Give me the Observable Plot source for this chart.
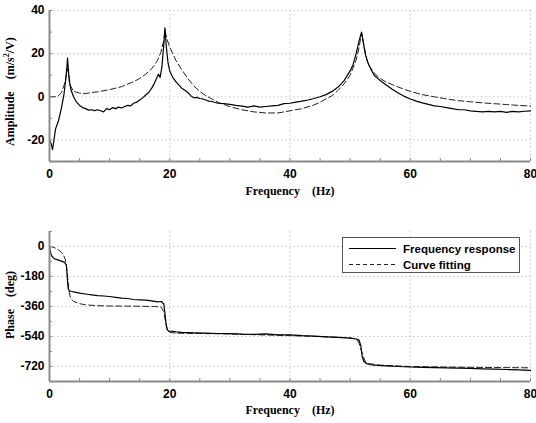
<!DOCTYPE html>
<html><head><meta charset="utf-8">
<script src="https://cdn.jsdelivr.net/npm/d3@7"></script>
<script src="https://cdn.jsdelivr.net/npm/@observablehq/plot@0.6"></script>
<style>
body{margin:0;background:#fff;}
#wrap{position:relative;width:536px;height:423px;overflow:hidden;}
#wrap svg{display:block;}
.lab{position:absolute;font-family:"Liberation Serif","DejaVu Serif",serif;font-weight:bold;font-size:12px;color:#000;white-space:pre;line-height:14px;}
.rot{transform-origin:0 0;transform:rotate(-90deg);}
#legend{position:absolute;left:342px;top:237px;width:178px;height:36px;border:1px solid #555;background:#fff;box-sizing:border-box;}
</style></head>
<body>
<div id="wrap">
<div id="top"></div>
<div id="bot"></div>
</div>
<script>
// ---- Data ----
const ampRespF = [0,0.3,0.5,0.8,1.0,1.5,2.0,2.4,2.7,2.9,3.0,3.1,3.3,3.6,4.0,4.5,5,5.5,6,6.5,7,7.5,8,8.5,9,9.5,10,10.5,11,11.5,12,12.5,13,13.5,14,14.5,15,15.5,16,16.5,17,17.4,17.8,18.1,18.4,18.7,19.0,19.2,19.4,19.7,20,20.5,21,21.5,22,22.5,23,23.5,24,24.5,25,25.5,26,26.5,27,28,29,30,31,32,33,34,35,36,37,38,39,40,41,42,43,44,45,46,47,48,49,50,50.5,51,51.5,51.9,52.2,52.5,53,53.5,54,55,56,57,58,59,60,61,62,63,64,65,66,67,68,69,70,71,72,73,74,75,76,77,78,79,80];
const ampRespV = [-20,-22,-24.5,-19,-15,-11,-5,1,8,14,18,14,7,3,0,-2.5,-4,-5,-5.5,-6.2,-6,-6.4,-6,-6.5,-7,-5.5,-6,-5,-5.5,-4.8,-5.2,-4.5,-4,-4.2,-3,-2.5,-1.5,-0.5,0.8,2,4,6,8.5,10.5,9,14,24,32,24,16,12,9,7,5.5,4,3,2,0.5,-0.5,-0.3,-0.8,-1,-1.5,-2,-2.2,-3,-3.2,-3.5,-4,-4.3,-4.8,-4.2,-4.8,-4.5,-4.2,-4,-3.2,-3,-2.5,-2,-1.5,-0.8,0,1,2.5,4.5,7.5,12,15,20,26,30,25,20,15.5,12.5,10,7.5,5.5,3.5,1.8,0.2,-1,-2,-2.8,-3.5,-4.2,-4.5,-5,-5.5,-6,-6,-6.5,-6.8,-7,-6.8,-7,-6.8,-7.2,-6.8,-7,-6.7,-6.5];
const ampFitF = [0,1,1.5,2,2.5,2.8,3.0,3.2,3.5,4,5,6,7,8,10,12,14,15,16,17,18,18.5,19,19.2,19.5,20,20.5,21,22,23,24,25,26,27,28,30,32,34,36,38,40,42,44,45,46,47,48,49,50,51,51.5,51.9,52.3,52.7,53,54,55,56,58,60,62,64,66,68,70,72,74,76,78,80];
const ampFitV = [0,0,0.5,2,6,10,13,10,5,2.5,1.7,1.5,2,2.3,3.3,4.7,7,8.5,10.5,13,17,20.5,26,31,27,23,20,17,12.5,8.5,5,2.5,0.5,-1,-2.5,-4.6,-6,-7,-7.5,-7.5,-6.5,-5.5,-3.8,-2.5,-1,0.5,3,6,10,17,23,29.5,24,18,15,11,8.5,6.8,4.5,2.5,1,0,-1,-1.8,-2.3,-2.8,-3.2,-3.6,-4,-4.3];
const phRespF = [0,0.2,0.4,0.7,1,1.5,2,2.5,2.8,2.95,3.1,3.3,3.6,4,5,6,7,8,9,10,11,12,13,14,15,16,17,18,18.6,19.0,19.2,19.4,19.6,19.9,20.3,21,22,24,26,28,30,32,34,36,38,40,42,44,46,48,50,51,51.5,51.8,52.0,52.3,52.7,53.2,54,56,58,60,62,64,66,68,70,72,74,76,78,80];
const phRespV = [0,-40,-58,-70,-76,-82,-88,-95,-110,-180,-250,-265,-270,-272,-280,-285,-290,-295,-297,-300,-305,-310,-312,-318,-320,-322,-326,-332,-330,-345,-400,-470,-500,-510,-507,-512,-515,-518,-520,-522,-523,-526,-527,-524,-530,-530,-535,-538,-542,-545,-550,-555,-562,-600,-660,-690,-703,-708,-712,-716,-720,-723,-725,-727,-728,-730,-731,-734,-736,-738,-740,-743];
const phFitF = [0,0.5,1,1.5,2,2.3,2.6,2.8,3.0,3.2,3.5,4,5,6,8,10,14,17,18.5,19,19.3,19.6,20,21,25,30,35,40,45,50,51,51.5,52,52.5,53,55,60,70,80];
const phFitV = [0,-3,-10,-20,-35,-50,-75,-110,-180,-260,-310,-330,-343,-350,-355,-357,-358,-360,-362,-390,-450,-500,-515,-520,-522,-525,-530,-535,-540,-548,-555,-580,-640,-690,-702,-712,-720,-725,-728];
const xMajor = [0,20,40,60,80];
const xMinor = d3.range(0,81,5);
const ampMajor = [-20,0,20,40];
const ampMinor = d3.range(-30,41,10);
const phMajor = [0,-180,-360,-540,-720];
const phMinor = d3.range(-810,91,90);
const legendLabels = ["Frequency response", "Curve fitting"];

const zip = (fs, vs) => fs.map((f,i)=>({f, v: vs[i]}));

const gridStyle = {stroke:"#c8c8c8", strokeOpacity:1, strokeDasharray:"1.5,2.5"};
const axisColor = "#8a8a8a";
const tickFont = {fontFamily:"'Liberation Sans', Arial, sans-serif", fontWeight:"bold", fontSize:12, fill:"#000"};

function panel(resp, fit, yDomain, yMajor, yMinor, height, mt, mb) {
  return Plot.plot({
    width:536, height, marginTop:mt, marginBottom:mb, marginLeft:49, marginRight:6,
    x:{domain:[0,80]}, y:{domain:yDomain},
    style:{background:"white", overflow:"visible"},
    marks:[
      Plot.gridX(xMajor.filter(d=>d>0), gridStyle),
      Plot.gridY(yMajor, gridStyle),
      Plot.line(fit, {x:"f", y:"v", stroke:"#222", strokeWidth:1, strokeDasharray:"6,3"}),
      Plot.line(resp, {x:"f", y:"v", stroke:"#000", strokeWidth:1.2}),
      Plot.ruleX([0], {stroke:axisColor, strokeWidth:2}),
      Plot.ruleY([yDomain[0]], {stroke:axisColor, strokeWidth:2}),
      Plot.axisX({ticks:xMinor, tickSize:3, dy:-3, stroke:axisColor, tickFormat:()=>"", label:null}),
      Plot.axisY({ticks:yMinor, tickSize:3, dx:3, stroke:axisColor, tickFormat:()=>"", label:null}),
      Plot.axisX({ticks:xMajor, tickSize:0, tickPadding:8, tickFormat:d=>String(d), label:null, ...tickFont}),
      Plot.axisY({ticks:yMajor, tickSize:0, tickPadding:5, tickFormat:d=>String(d), label:null, ...tickFont})
    ]
  });
}

document.getElementById("top").appendChild(panel(zip(ampRespF,ampRespV), zip(ampFitF,ampFitV), [-30,40], ampMajor, ampMinor, 200, 10, 39));
document.getElementById("bot").appendChild(panel(zip(phRespF,phRespV), zip(phFitF,phFitV), [-810,90], phMajor, phMinor, 223, 31, 42));

const wrap = document.getElementById("wrap");
function lab(text, x, y, rot) {
  const d = document.createElement("div");
  d.className = "lab" + (rot ? " rot" : "");
  d.innerHTML = text;
  d.style.left = x + "px"; d.style.top = y + "px";
  wrap.appendChild(d);
  const w = d.offsetWidth, h = d.offsetHeight;
  if (rot) { d.style.left = (x - h/2) + "px"; d.style.top = (y + w/2) + "px"; }
  else { d.style.left = (x - w/2) + "px"; d.style.top = (y - h/2) + "px"; }
}
lab("Frequency    (Hz)", 290, 191, false);
lab("Frequency    (Hz)", 290, 410, false);
lab("Amplitude    (m/s<sup style='font-size:8px;line-height:0'>2</sup>/V)", 10, 91, true);
lab("Phase    (deg)", 10, 305, true);

const leg = document.createElement("div");
leg.id = "legend";
leg.innerHTML = `<svg width="178" height="36" style="position:absolute;left:0;top:0">
<line x1="6" x2="53" y1="10.5" y2="10.5" stroke="#000" stroke-width="1.2"/>
<line x1="6" x2="53" y1="26.5" y2="26.5" stroke="#222" stroke-width="1" stroke-dasharray="4,3"/>
<text x="60" y="14.5" font-family="Liberation Sans, Arial, sans-serif" font-weight="bold" font-size="11.5">${legendLabels[0]}</text>
<text x="60" y="30.5" font-family="Liberation Sans, Arial, sans-serif" font-weight="bold" font-size="11.5">${legendLabels[1]}</text>
</svg>`;
wrap.appendChild(leg);
</script>
</body></html>
